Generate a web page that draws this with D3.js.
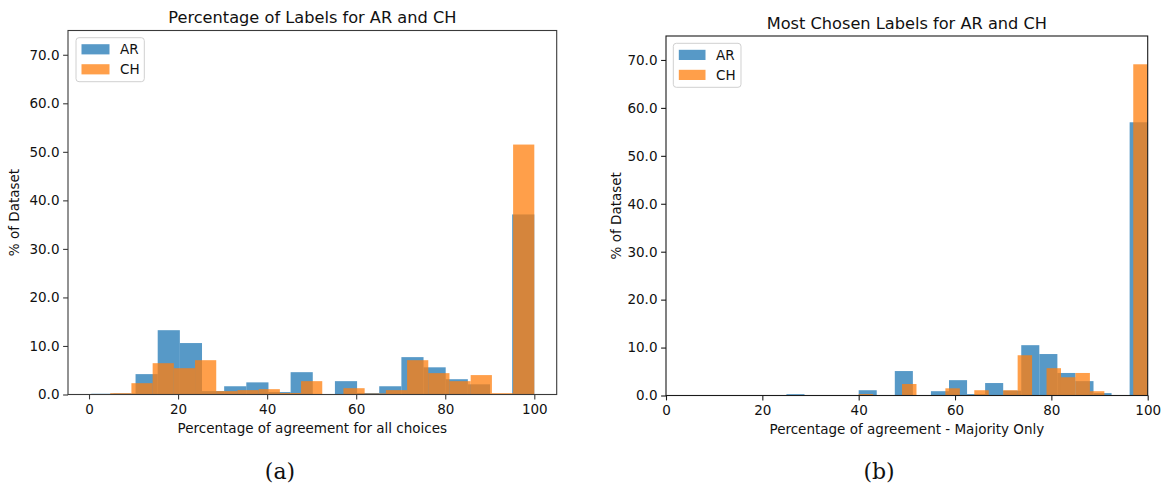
<!DOCTYPE html>
<html>
<head>
<meta charset="utf-8">
<script src="https://cdn.jsdelivr.net/npm/d3@7"></script>
<style>
body { margin: 0; background: #fff; }
svg text { font-family: "DejaVu Sans", sans-serif; fill: #111; }
.caption { font-family: "DejaVu Serif", serif; }
</style>
</head>
<body>
<script>
// bin edges + heights (% of dataset)
const allEdgesAR = [0.5, 5.475, 10.45, 15.425, 20.4, 25.375, 30.35, 35.325, 40.3, 45.275, 50.25,
    55.225, 60.2, 65.175, 70.15, 75.125, 80.1, 85.075, 90.05, 95.025, 100]
const allValuesAR = [0.15, 0.2, 4.2, 13.25, 10.6, 0.7, 1.7, 2.5, 0.5, 4.6, 0,
    2.75, 0.3, 1.7, 7.7, 5.6, 3.15, 2.1, 0, 37.1]
const allEdgesCH = [4.76, 9.52, 14.29, 19.05, 23.81, 28.57, 33.33, 38.1, 42.86, 47.62, 52.38,
    57.14, 61.9, 66.67, 71.43, 76.19, 80.95, 85.71, 90.48, 95.24, 100]
const allValuesCH = [0.27, 2.33, 6.45, 5.42, 7.07, 0.69, 0.9, 1.1, 0.3, 2.75, 0,
    1.3, 0.2, 0.9, 7.07, 4.4, 2.75, 4.0, 0.27, 51.5]

const majEdgesAR = [25, 28.75, 32.5, 36.25, 40, 43.75, 47.5, 51.25, 55, 58.75, 62.5,
    66.25, 70, 73.75, 77.5, 81.25, 85, 88.75, 92.5, 96.25, 100]
const majValuesAR = [0.28, 0, 0, 0, 1.1, 0, 5.1, 0, 0.9, 3.2, 0.3,
    2.6, 1.0, 10.5, 8.65, 4.7, 3.0, 0.5, 0, 57.0]
const majEdgesCH = [40, 43, 46, 49, 52, 55, 58, 61, 64, 67, 70,
    73, 76, 79, 82, 85, 88, 91, 94, 97, 100]
const majValuesCH = [0.3, 0, 0, 2.4, 0, 0, 1.5, 0, 1.1, 0, 1.1,
    8.4, 0, 5.7, 3.8, 4.7, 0.9, 0, 0, 69.1]

const xTicks = [0, 20, 40, 60, 80, 100]
const yTicks = [0, 10, 20, 30, 40, 50, 60, 70]
const seriesNames = ["AR", "CH"]
const seriesColors = ["#1f77b4", "#ff7f0e"]

const svg = d3.select("body").append("svg")
    .attr("width", 1166)
    .attr("height", 489)

function drawPanel(p) {
    const x = d3.scaleLinear().domain(p.xDomain).range(p.xRange)
    const y = d3.scaleLinear().domain([0, 75]).range(p.yRange)
    const g = svg.append("g")

    const series = [
        { edges: p.edgesAR, values: p.valuesAR, color: seriesColors[0] },
        { edges: p.edgesCH, values: p.valuesCH, color: seriesColors[1] }
    ]
    series.forEach(s => {
        const bins = s.values.map((v, i) => ({ x0: s.edges[i], x1: s.edges[i + 1], v: v }))
            .filter(b => b.v > 0)
        g.append("g").selectAll("rect")
            .data(bins)
            .enter()
            .append("rect")
            .attr("x", d => x(d.x0))
            .attr("width", d => x(d.x1) - x(d.x0))
            .attr("y", d => y(d.v))
            .attr("height", d => y(0) - y(d.v))
            .attr("fill", s.color)
            .attr("fill-opacity", 0.75)
    })

    // axes
    const xAxis = g.append("g")
        .attr("transform", `translate(0,${p.yRange[0]})`)
        .call(d3.axisBottom(x).tickValues(xTicks).tickSize(4.9).tickPadding(5.5).tickFormat(d3.format("d")))
    const yAxis = g.append("g")
        .attr("transform", `translate(${p.xRange[0]},0)`)
        .call(d3.axisLeft(y).tickValues(yTicks).tickSize(4.9).tickPadding(3.6).tickFormat(d3.format(".1f")))
    ;[xAxis, yAxis].forEach(a => {
        a.select(".domain").remove()
        a.selectAll("line").attr("stroke", p.spine).attr("stroke-width", 1.1)
        a.selectAll("text").attr("font-size", "13.5px").attr("fill", "#111")
            .attr("font-family", "DejaVu Sans, sans-serif")
    })

    // frame
    g.append("rect")
        .attr("x", p.xRange[0])
        .attr("y", p.yRange[1])
        .attr("width", p.xRange[1] - p.xRange[0])
        .attr("height", p.yRange[0] - p.yRange[1])
        .attr("fill", "none")
        .attr("stroke", p.spine)
        .attr("stroke-width", 1.1)

    const cx = (p.xRange[0] + p.xRange[1]) / 2
    g.append("text")
        .attr("x", cx).attr("y", p.titleY)
        .attr("text-anchor", "middle")
        .attr("font-size", "16.2px")
        .text(p.title)
    g.append("text")
        .attr("x", cx).attr("y", p.xLabelY)
        .attr("text-anchor", "middle")
        .attr("font-size", "13.5px")
        .text(p.xLabel)
    g.append("text")
        .attr("transform", `translate(${p.yLabelX},${(p.yRange[0] + p.yRange[1]) / 2}) rotate(-90)`)
        .attr("text-anchor", "middle")
        .attr("font-size", "13.5px")
        .text("% of Dataset")

    // legend
    const lg = g.append("g").attr("transform", `translate(${p.legend[0]},${p.legend[1]})`)
    lg.append("rect")
        .attr("width", p.legend[2]).attr("height", 44)
        .attr("rx", 3)
        .attr("fill", "#fff").attr("fill-opacity", 0.8)
        .attr("stroke", "#d0d0d0")
    seriesNames.forEach((name, i) => {
        lg.append("rect")
            .attr("x", 5.5).attr("y", 6.5 + i * 20)
            .attr("width", p.legend[3]).attr("height", 10.2)
            .attr("fill", seriesColors[i]).attr("fill-opacity", 0.75)
        lg.append("text")
            .attr("x", p.legend[3] + 16).attr("y", 11.6 + i * 20)
            .attr("dominant-baseline", "central")
            .attr("font-size", "13.5px")
            .text(name)
    })

    svg.append("text")
        .attr("class", "caption")
        .attr("x", p.captionX).attr("y", 479)
        .attr("text-anchor", "middle")
        .attr("font-size", "22px")
        .attr("font-family", "DejaVu Serif, serif")
        .text(p.caption)
}

drawPanel({
    edgesAR: allEdgesAR, valuesAR: allValuesAR, edgesCH: allEdgesCH, valuesCH: allValuesCH,
    xDomain: [-4.72, 105.03], xRange: [68, 556.7], yRange: [394.5, 30.5],
    title: "Percentage of Labels for AR and CH", titleY: 22.5,
    xLabel: "Percentage of agreement for all choices", xLabelY: 433,
    yLabelX: 18.5, legend: [76, 37.7, 68.3, 28], caption: "(a)", captionX: 280,
    spine: "#3a3a3a"
})
drawPanel({
    edgesAR: majEdgesAR, valuesAR: majValuesAR, edgesCH: majEdgesCH, valuesCH: majValuesCH,
    xDomain: [0, 100], xRange: [666, 1147.7], yRange: [395.5, 36],
    title: "Most Chosen Labels for AR and CH", titleY: 29,
    xLabel: "Percentage of agreement - Majority Only", xLabelY: 434,
    yLabelX: 620.5, legend: [673.3, 43.3, 67.7, 26.7], caption: "(b)", captionX: 879,
    spine: "#1a1a1a"
})
</script>
</body>
</html>
